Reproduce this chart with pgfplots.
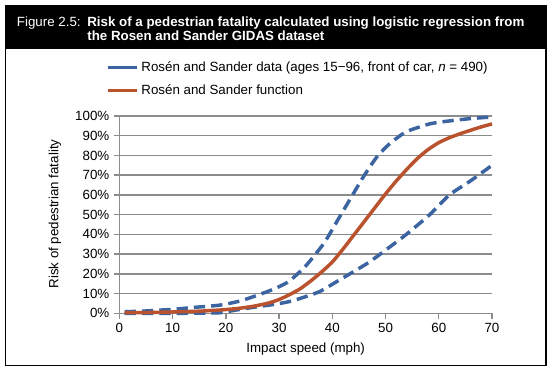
\documentclass[border=0pt]{standalone}
\usepackage{fontspec}
\setmainfont{Liberation Sans}
\usepackage{pgfplots}
\pgfplotsset{compat=1.18}
\definecolor{rsblue}{RGB}{59,100,160}
\definecolor{rsorange}{RGB}{185,82,45}
\definecolor{gridgray}{RGB}{140,140,140}
\begin{document}
\begin{tikzpicture}
\path[use as bounding box,fill=white] (-89.5pt,-42.5pt) rectangle (324.5pt,235pt);
% frame and banner
\fill[black] (-85.7pt,198.2pt) rectangle (320pt,231.2pt);
\draw[black,line width=0.8pt] (-85.7pt,-38.8pt) rectangle (320pt,231.2pt);
\node[anchor=base west,inner sep=0pt,text=white,font=\fontsize{10}{12}\selectfont] at (-77pt,215pt) {Figure 2.5:};
\node[anchor=base west,inner sep=0pt,text=white,font=\fontsize{10}{12}\selectfont\bfseries] at (-24.2pt,215pt) {Risk of a pedestrian fatality calculated using logistic regression from};
\node[anchor=base west,inner sep=0pt,text=white,font=\fontsize{10}{12}\selectfont\bfseries] at (-24.2pt,204.3pt) {the Rosen and Sander GIDAS dataset};
\begin{axis}[
  at={(0,0)}, anchor=south west,
  scale only axis,
  width=279.5pt, height=148pt,
  xmin=0, xmax=70, ymin=0, ymax=100,
  enlargelimits=false,
  xtick={0,10,...,70},
  ytick={0,10,...,100},
  yticklabel={\pgfmathprintnumber{\tick}\%},
  /pgf/number format/assume math mode=true,
  tick label style={font=\fontsize{10}{12}\selectfont},
  label style={font=\fontsize{10}{12}\selectfont},
  axis x line*=bottom, axis y line*=left,
  axis line style={gridgray,line width=1.2pt},
  tick style={gridgray,line width=1.1pt},
  tick align=outside,
  major tick length=4pt,
  ymajorgrids,
  grid style={gridgray,line width=1.1pt},
  xlabel={Impact speed (mph)},
  ylabel={Risk of pedestrian fatality},
  x label style={at={(axis description cs:0.5,-0.181)},anchor=center},
  y label style={at={(axis description cs:-0.1725,0.503)},anchor=center,rotate=0},
  legend style={at={(axis description cs:-0.036,1.29)},anchor=north west,draw=none,fill=none,
    font=\fontsize{10}{12}\selectfont,row sep=4.5pt,inner sep=0pt},
  legend cell align=left,
  legend image code/.code={\draw[#1] (0pt,0pt) -- (21.8pt,0pt);},
  clip=false,
]
\addlegendimage{rsblue,line width=2.6pt}
\addlegendentry{Rosén and Sander data (ages 15\textminus 96, front of car, \textit{n} = 490)}
\addlegendimage{rsorange,line width=2.6pt}
\addlegendentry{Rosén and Sander function}
% upper bound
\addplot[forget plot,rsblue,line width=2.6pt,dash pattern=on 8.5pt off 4.5pt,smooth,tension=0.4] coordinates {
(1,0.8) (5,1.2) (8,1.7) (10,2.0) (14,3.0) (19,4.2) (23,6.5) (27.6,10.8) (30,13.5) (32,16.5)
(35,24) (38.3,35) (40,42.5) (41.4,49) (43.6,59) (45.8,69) (48.3,79) (50.8,86) (53.9,92)
(58.3,96) (62,97.5) (66,98.7) (70,99.5)};
% lower bound
\addplot[forget plot,rsblue,line width=2.6pt,dash pattern=on 8.5pt off 4.5pt,smooth,tension=0.4] coordinates {
(1,0) (10,0) (15,0.1) (18.9,0.3) (22,1.7) (25.8,3.3) (29.5,4.7) (32,6) (33.9,7.5) (37.6,11)
(41.4,17) (46.4,25) (49.5,31) (53.9,40) (58.3,50) (62,60) (65.9,67) (70,75)};
% function
\addplot[forget plot,rsorange,line width=2.6pt,smooth,tension=0.4] coordinates {
(1,0.3) (5,0.4) (10,0.7) (15,1.1) (19,1.7) (22,2.4) (25,3.5) (28,5.2) (30,7) (32,9.5)
(34,12.5) (36,16.5) (38,21) (40,26) (42,32.5) (44,39.5) (46,46.5) (48,53.5) (50,60.5)
(52,67) (54,73) (56,78.5) (58,83) (60,86.5) (62,89) (64,91) (66,92.8) (68,94.5) (70,96)};
\end{axis}
\end{tikzpicture}
\end{document}
